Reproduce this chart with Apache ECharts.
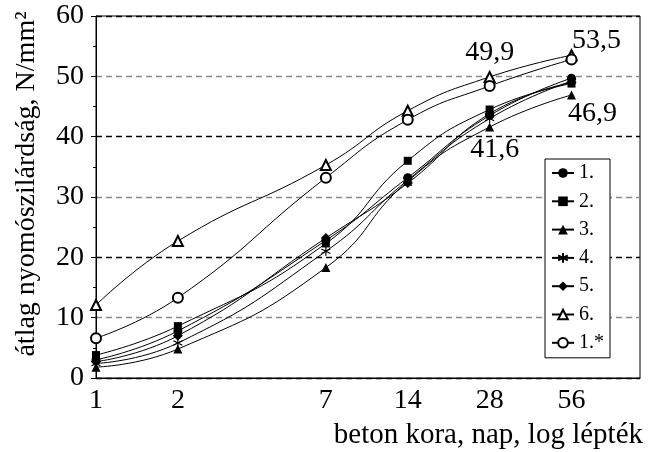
<!DOCTYPE html>
<html>
<head>
<meta charset="utf-8">
<script src="https://cdn.jsdelivr.net/npm/echarts@6/dist/echarts.min.js"></script>
<style>html,body{margin:0;padding:0;background:#fff}#c{width:648px;height:452px}</style>
</head>
<body>
<div id="c"></div>
<script>
var days = [1, 2, 7, 14, 28, 56];
var tickLabels = [1, 2, 7, 14, 28, 56];
var yTicks = [0, 10, 20, 30, 40, 50, 60];
var names = ['1.', '2.', '3.', '4.', '5.', '6.', '1.*'];
var s1 = [3.0, 7.8, 22.8, 33.2, 43.5, 49.7];
var s2 = [3.8, 8.6, 22.3, 36.0, 44.5, 48.8];
var s3 = [1.8, 4.8, 18.3, 32.6, 41.6, 46.9];
var s4 = [2.4, 5.8, 21.0, 32.8, 43.0, 49.2];
var s5 = [2.7, 7.0, 23.2, 32.3, 43.8, 49.0];
var s6 = [12.1, 22.7, 35.3, 44.3, 49.9, 53.5];
var s1s = [6.6, 13.3, 33.2, 42.8, 48.4, 52.8];
var values = [s1, s2, s3, s4, s5, s6, s1s];

var FONT = '"Liberation Serif", "Times New Roman", serif';
var symbols = ['circle', 'rect', 'triangle',
  'path://M5,0L5,10M0.67,2.5L9.33,7.5M0.67,7.5L9.33,2.5',
  'diamond', 'emptyTriangle', 'emptyCircle'];
var sizes = [9, 8, 9, 9, 10, 10, 10];
var labelPos = {
  '5_4': {position: 'top', offset: [0, 1]},
  '5_5': {position: 'top', offset: [25, 10]},
  '2_4': {position: 'bottom', offset: [5, -1]},
  '2_5': {position: 'bottom', offset: [21, -5]}
};
function fmt(v) { return String(v).replace('.', ','); }

var series = values.map(function (vals, si) {
  return {
    name: names[si],
    type: 'line',
    smooth: true,
    symbol: symbols[si],
    symbolSize: sizes[si],
    lineStyle: {color: '#000', width: 1},
    itemStyle: {color: '#000', borderColor: '#000', borderWidth: si === 3 ? 1.2 : (si >= 5 ? 1 : 0)},
    z: 3,
    data: vals.map(function (v, i) {
      var item = {value: [days[i], v]};
      var key = si + '_' + i;
      if (labelPos[key]) {
        item.label = {
          show: true,
          position: labelPos[key].position,
          offset: labelPos[key].offset,
          formatter: function (p) { return fmt(p.value[1]); },
          fontFamily: FONT, fontSize: 28, color: '#000'
        };
      }
      return item;
    })
  };
});

var chart = echarts.init(document.getElementById('c'), null, {renderer: 'canvas'});
chart.setOption({
  animation: false,
  backgroundColor: '#fff',
  grid: {left: 96, right: 8, top: 16, bottom: 74, show: true, borderColor: '#000', borderWidth: 1},
  xAxis: {
    type: 'log', logBase: 10, min: 1, max: 100,
    axisLine: {show: true, lineStyle: {color: '#000', width: 1}},
    axisTick: {show: false},
    minorTick: {show: false},
    splitLine: {show: false},
    minorSplitLine: {show: false},
    axisLabel: {
      customValues: tickLabels,
      formatter: function (v) { return String(Math.round(v)); },
      fontFamily: FONT, fontSize: 28, color: '#000', margin: 9
    }
  },
  yAxis: {
    type: 'value', min: yTicks[0], max: yTicks[yTicks.length - 1], interval: 10,
    axisLine: {show: true, lineStyle: {color: '#000', width: 1}},
    axisTick: {show: true, inside: false, length: 5, lineStyle: {color: '#000'}},
    minorTick: {show: true, splitNumber: 2, length: 3, lineStyle: {color: '#000'}},
    splitLine: {show: true, lineStyle: {color: ['#000', '#8a8a8a'], type: [6, 4], width: 1.3}},
    axisLabel: {fontFamily: FONT, fontSize: 28, color: '#000', margin: 12}
  },
  legend: {
    data: names,
    orient: 'vertical',
    left: 545, top: 159,
    padding: [4, 6, 5, 6],
    itemWidth: 22, itemHeight: 12, itemGap: 8.3,
    backgroundColor: '#fff',
    borderColor: '#000', borderWidth: 1,
    textStyle: {fontFamily: FONT, fontSize: 20, color: '#000', lineHeight: 20}
  },
  graphic: [
    {type: 'text', x: 27, y: 184, rotation: Math.PI / 2,
      style: {text: 'átlag nyomószilárdság, N/mm²', font: '28px ' + FONT, fill: '#000', align: 'center', verticalAlign: 'middle'}},
    {type: 'text', x: 643, y: 421,
      style: {text: 'beton kora, nap, log lépték', font: '29px ' + FONT, fill: '#000', align: 'right', verticalAlign: 'top'}}
  ],
  series: series
});
</script>
</body>
</html>
